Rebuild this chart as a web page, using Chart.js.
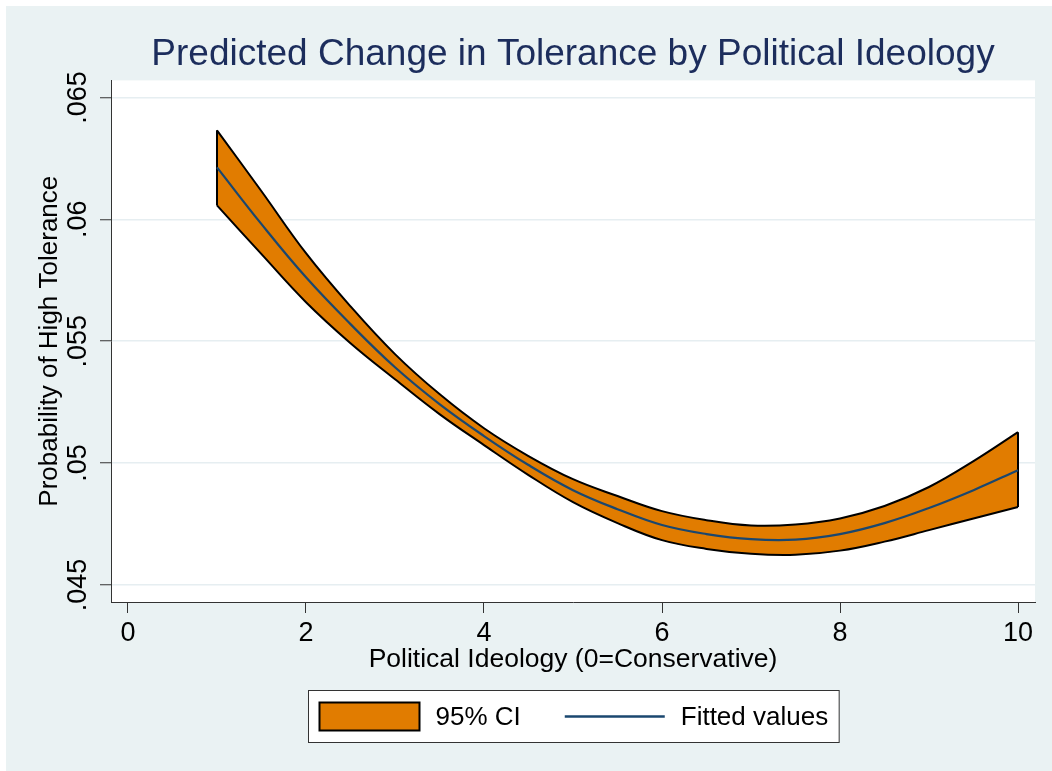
<!DOCTYPE html>
<html>
<head>
<meta charset="utf-8">
<title>Predicted Change in Tolerance by Political Ideology</title>
<script src="https://cdn.jsdelivr.net/npm/chart.js@4.4.1/dist/chart.umd.min.js"></script>
<style>
  html, body { margin: 0; padding: 0; background: #ffffff; }
  canvas { display: block; }
</style>
</head>
<body>
<canvas id="chart" width="1052" height="771"></canvas>
<script>
// Political ideology scale points (0 = conservative)
const ideology = [1, 1.5, 2, 2.5, 3, 3.5, 4, 4.5, 5, 5.5, 6, 6.5, 7, 7.5, 8, 8.5, 9, 9.5, 10];
// Upper bound of the 95% confidence interval
const ciUpper = [0.06365, 0.06115, 0.05861, 0.05643, 0.05447, 0.05283, 0.05143, 0.05029, 0.04934, 0.04865,
                 0.04803, 0.04766, 0.04744, 0.04748, 0.04773, 0.04824, 0.04902, 0.05008, 0.05127];
// Fitted probability of high tolerance
const fitted  = [0.06213, 0.05980, 0.05762, 0.05570, 0.05393, 0.05242, 0.05111, 0.04992, 0.04889, 0.04811,
                 0.04746, 0.04709, 0.04688, 0.04686, 0.04709, 0.04754, 0.04816, 0.04889, 0.04971];
// Lower bound of the 95% confidence interval
const ciLower = [0.06057, 0.05857, 0.05660, 0.05492, 0.05344, 0.05201, 0.05074, 0.04951, 0.04840, 0.04754,
                 0.04684, 0.04648, 0.04628, 0.04624, 0.04641, 0.04678, 0.04725, 0.04773, 0.04820];

const xTickValues = [0, 2, 4, 6, 8, 10];
const xTickLabels = ['0', '2', '4', '6', '8', '10'];
const yTickValues = [0.045, 0.05, 0.055, 0.06, 0.065];
const yTickLabels = ['.045', '.05', '.055', '.06', '.065'];

const FONT = "'Liberation Sans', Arial, Helvetica, sans-serif";
const ORANGE = '#E17C00';
const NAVY = '#1A476F';
const TITLE_COLOR = '#1C2D5C';
const PANEL = '#EAF2F3';
const GRID = '#E6EEF1';
const AXIS = '#333333';

const toPoints = (ys) => ideology.map((x, i) => ({ x: x, y: ys[i] }));
const last = ideology.length - 1;

// Page background, outer panel and white plot region
const backdrop = {
  id: 'backdrop',
  beforeDraw(chart) {
    const { ctx, width, height, chartArea: a } = chart;
    ctx.save();
    ctx.fillStyle = '#ffffff';
    ctx.fillRect(0, 0, width, height);
    ctx.fillStyle = PANEL;
    ctx.fillRect(6, 6, width - 6, height - 6);
    ctx.fillStyle = '#ffffff';
    ctx.fillRect(a.left, a.top, a.right - a.left, a.bottom - a.top);
    ctx.restore();
  }
};

// Framed key below the axis title: band swatch and fitted line
const keyBox = {
  id: 'keyBox',
  afterDraw(chart) {
    const ctx = chart.ctx;
    const a = chart.chartArea;
    const ds = chart.data.datasets;
    const band = ds[0];
    const line = ds[2];
    ctx.save();
    ctx.font = '26px ' + FONT;
    const sw = 100, gapText = 16, gapItem = 44, padX = 11;
    const w1 = ctx.measureText(band.label).width;
    const w2 = ctx.measureText(line.label).width;
    const total = padX + sw + gapText + w1 + gapItem + sw + gapText + w2 + padX;
    const cx = (a.left + a.right) / 2;
    const left = Math.round(cx - total / 2) + 0.5;
    const top = 690.5, h = 52, mid = top + h / 2;

    ctx.fillStyle = '#ffffff';
    ctx.fillRect(left, top, total, h);
    ctx.strokeStyle = AXIS;
    ctx.lineWidth = 1;
    ctx.strokeRect(left, top, total, h);

    let x = left + padX;
    ctx.fillStyle = band.backgroundColor;
    ctx.fillRect(x, mid - 14, sw, 28);
    ctx.strokeStyle = band.borderColor;
    ctx.lineWidth = 2;
    ctx.strokeRect(x, mid - 14, sw, 28);
    x += sw + gapText;

    ctx.fillStyle = '#000000';
    ctx.textAlign = 'left';
    ctx.textBaseline = 'middle';
    ctx.fillText(band.label, x, mid + 1);
    x += w1 + gapItem;

    ctx.strokeStyle = line.borderColor;
    ctx.lineWidth = 2.5;
    ctx.beginPath();
    ctx.moveTo(x, mid);
    ctx.lineTo(x + sw, mid);
    ctx.stroke();
    x += sw + gapText;

    ctx.fillText(line.label, x, mid + 1);
    ctx.restore();
  }
};

new Chart(document.getElementById('chart'), {
  type: 'line',
  data: {
    datasets: [
      {
        label: '95% CI',
        data: toPoints(ciUpper),
        borderColor: '#000000',
        borderWidth: 2,
        backgroundColor: ORANGE,
        fill: '+1'
      },
      {
        label: 'CI lower',
        data: toPoints(ciLower),
        borderColor: '#000000',
        borderWidth: 2,
        fill: false
      },
      {
        label: 'Fitted values',
        data: toPoints(fitted),
        borderColor: NAVY,
        borderWidth: 2.2,
        fill: false
      },
      {
        label: 'CI left edge',
        data: [{ x: ideology[0], y: ciLower[0] }, { x: ideology[0], y: ciUpper[0] }],
        borderColor: '#000000',
        borderWidth: 2,
        tension: 0,
        fill: false
      },
      {
        label: 'CI right edge',
        data: [{ x: ideology[last], y: ciLower[last] }, { x: ideology[last], y: ciUpper[last] }],
        borderColor: '#000000',
        borderWidth: 2,
        tension: 0,
        fill: false
      }
    ]
  },
  options: {
    responsive: false,
    animation: false,
    devicePixelRatio: 1,
    layout: { padding: { left: 0, top: 0, right: 17, bottom: 89 } },
    elements: {
      point: { radius: 0, hoverRadius: 0 },
      line: { tension: 0.4, borderJoinStyle: 'round' }
    },
    plugins: {
      legend: { display: false },
      tooltip: { enabled: false },
      filler: { drawTime: 'beforeDatasetsDraw' },
      title: {
        display: true,
        fullSize: false,
        text: 'Predicted Change in Tolerance by Political Ideology',
        color: TITLE_COLOR,
        font: { family: FONT, size: 37, weight: 'normal' },
        padding: { top: 33, bottom: 3 }
      }
    },
    scales: {
      x: {
        type: 'linear',
        min: -0.191,
        max: 10.191,
        afterBuildTicks: (s) => { s.ticks = xTickValues.map(v => ({ value: v })); },
        afterFit: (s) => { s.height = 80; },
        ticks: {
          autoSkip: false,
          maxRotation: 0,
          padding: 4,
          color: '#000000',
          font: { family: FONT, size: 27 },
          callback: (v, i) => xTickLabels[i]
        },
        grid: {
          drawOnChartArea: false,
          color: AXIS,
          tickLength: 11,
          tickColor: AXIS,
          tickWidth: 1
        },
        border: { display: true, color: AXIS, width: 1 },
        title: {
          display: true,
          text: 'Political Ideology (0=Conservative)',
          color: '#000000',
          font: { family: FONT, size: 26.5 },
          padding: { top: 0, bottom: 6 }
        }
      },
      y: {
        type: 'linear',
        min: 0.044303,
        max: 0.065697,
        afterBuildTicks: (s) => { s.ticks = yTickValues.map(v => ({ value: v })); },
        afterFit: (s) => { s.width = 111; },
        ticks: {
          autoSkip: false,
          minRotation: 90,
          maxRotation: 90,
          crossAlign: 'center',
          padding: -5,
          color: '#000000',
          font: { family: FONT, size: 27 },
          callback: (v, i) => yTickLabels[i]
        },
        grid: {
          color: GRID,
          lineWidth: 1.5,
          tickLength: 11,
          tickColor: AXIS,
          tickWidth: 1
        },
        border: { display: true, color: AXIS, width: 1 },
        title: {
          display: true,
          text: 'Probability of High Tolerance',
          color: '#000000',
          font: { family: FONT, size: 26 },
          padding: { top: 34, bottom: 0 }
        }
      }
    }
  },
  plugins: [backdrop, keyBox]
});
</script>
</body>
</html>
